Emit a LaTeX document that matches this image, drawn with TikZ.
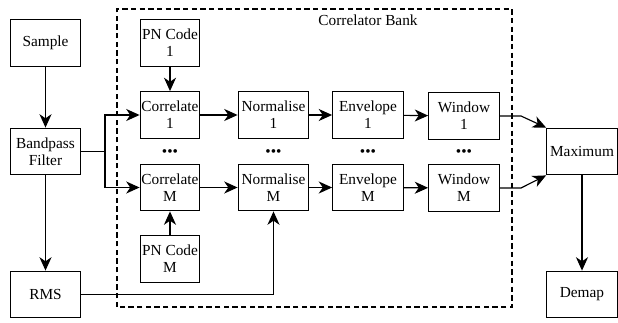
\documentclass[tikz,border=0pt]{standalone}
\usepackage{fontspec}
\setmainfont{Liberation Serif}
\usetikzlibrary{arrows.meta}
\tikzset{
	blk/.style={draw, rectangle, align=center, inner sep=1pt, minimum height=35pt, font=\fontsize{11.5}{13}\selectfont},
	blkwide/.style={blk, minimum width=53pt},
	blknarrow/.style={blk, minimum width=43.5pt},
	dotrow/.style={font=\fontsize{11.5}{13}\selectfont, inner sep=0pt},
	flow/.style={-{Stealth[length=10pt,width=9pt,inset=3pt]}}
}

\begin{document}
\begin{tikzpicture}[x=0.75pt, y=0.75pt, line width=0.85pt]
	\useasboundingbox (0,0) rectangle (618,322);
	%\draw[step=10, very thin, gray!30] (0,0) grid (618,322);
	% correlator bank frame
	\draw[dashed, dash pattern=on 4pt off 2.5pt, line width=0.8pt] (117,15) rectangle (512,313);
	\node[font=\fontsize{11.5}{13}\selectfont] (bank) at (368,302) {Correlator Bank};
	% input chain
	\node[blkwide] (sample) at (45.5,279) {Sample};
	\node[blkwide] (bandpass) at (45.5,170.5) {Bandpass\\Filter};
	\node[blkwide] (rms) at (45.5,27.5) {RMS};
	% branch 1
	\node[blknarrow] (pn1) at (170,279) {PN Code\\1};
	\node[blknarrow] (corr1) at (170,207) {Correlate\\1};
	\node[blkwide] (norm1) at (273.5,207) {Normalise\\1};
	\node[blkwide] (env1) at (368,207) {Envelope\\1};
	\node[blkwide] (win1) at (464,206) {Window\\1};
	% branch M
	\node[blknarrow] (corrM) at (170,134.5) {Correlate\\M};
	\node[blkwide] (normM) at (273.5,134.5) {Normalise\\M};
	\node[blkwide] (envM) at (368,134.5) {Envelope\\M};
	\node[blkwide] (winM) at (464,134) {Window\\M};
	\node[blknarrow] (pnM) at (170,63) {PN Code\\M};
	% dots between branches
	\node[dotrow] (dots1) at (170,169) {\textbullet\textbullet\textbullet};
	\node[dotrow] (dots2) at (273.5,169) {\textbullet\textbullet\textbullet};
	\node[dotrow] (dots3) at (368,169) {\textbullet\textbullet\textbullet};
	\node[dotrow] (dots4) at (464,169) {\textbullet\textbullet\textbullet};
	% output
	\node[blkwide] (maxim) at (582,170.5) {Maximum};
	\node[blkwide] (demap) at (582,27.5) {Demap};
	\coordinate (split) at (105,170.5);
	\coordinate (bend1) at (521,206);
	\coordinate (bendM) at (521,134);
	% connectors
	\draw[flow] (sample) -- (bandpass);
	\draw[flow] (bandpass) -- (rms);
	\draw (bandpass.east) -- (split);
	\draw[flow] (split) |- (corr1);
	\draw[flow] (split) |- (corrM);
	\draw[flow] (pn1) -- (corr1);
	\draw[flow] (pnM) -- (corrM);
	\draw[flow] (corr1) -- (norm1);
	\draw[flow] (norm1) -- (env1);
	\draw[flow] (env1) -- (win1);
	\draw[flow] (corrM) -- (normM);
	\draw[flow] (normM) -- (envM);
	\draw[flow] (envM) -- (winM);
	\draw[flow] (rms) -| (normM);
	\draw[flow] (win1) -- (bend1) -- (maxim.north west);
	\draw[flow] (winM) -- (bendM) -- (maxim.south west);
	\draw[flow] (maxim) -- (demap);
\end{tikzpicture}
\end{document}
